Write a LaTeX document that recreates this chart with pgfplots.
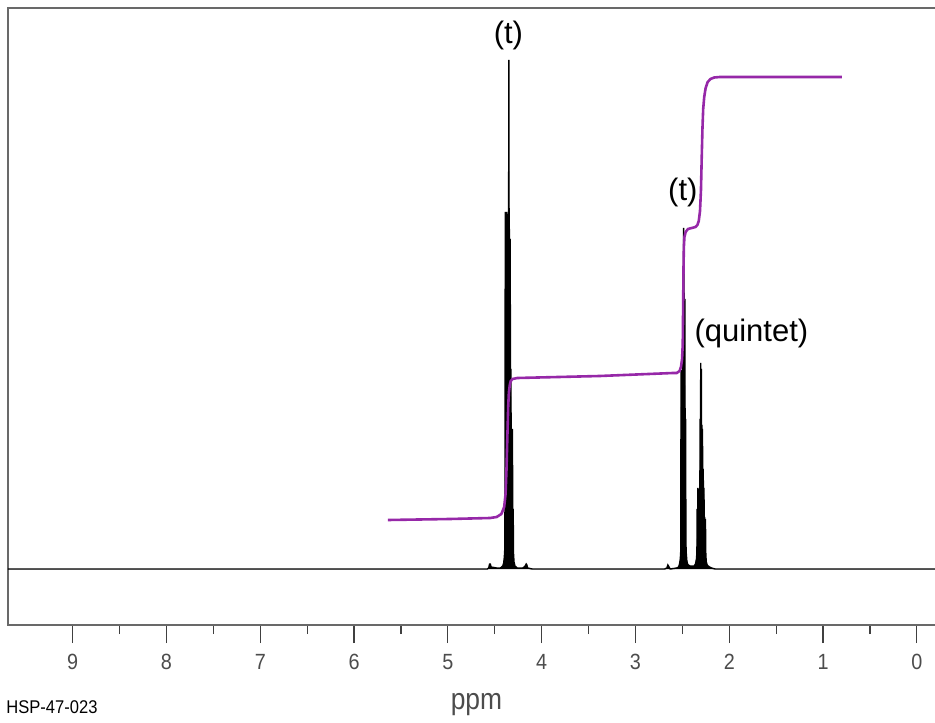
\documentclass[border=0pt]{standalone}
\usepackage{fontspec}
\setmainfont{Liberation Sans}
\newfontfamily\narrowfont[FakeStretch=0.9]{Liberation Sans}
\newfontfamily\labfont[FakeStretch=0.88]{Liberation Sans}
\usepackage{pgfplots}
\pgfplotsset{compat=1.18}
\definecolor{integ}{RGB}{150,40,168}
\definecolor{framegray}{RGB}{105,105,105}
\begin{document}
\begin{tikzpicture}
\begin{axis}[
  scale only axis,
  width=468.5pt, height=308.5pt,
  xmin=-0.30, xmax=9.69, x dir=reverse,
  ymin=-56, ymax=561,
  ytick=\empty,
  xtick={0,1,2,3,4,5,6,7,8,9},
  minor x tick num=1,
  xtick pos=bottom,
  tick align=outside,
  major tick length=9pt,
  minor tick length=4.5pt,
  every tick/.style={draw=black!75, line width=0.6pt},
  axis line style={draw=framegray, line width=1pt},
  /pgf/number format/assume math mode=true,
  xticklabel style={font=\narrowfont\fontsize{11}{13}\selectfont, text=black!70, yshift=-2pt},
  xlabel={ppm},
  x label style={at={(axis description cs:0.5,0)}, anchor=center, yshift=-40pt, font=\labfont\fontsize{15}{17}\selectfont, text=black!70},
  clip=false,
]
% spectrum
\addplot[black, fill=black, line width=0.7pt] coordinates {
(9.69,0)(4.62,0)(4.58,0)(4.565,1)(4.555,5)(4.548,5)(4.54,2)(4.48,1)(4.44,1)(4.415,3)(4.405,6)(4.398,12)(4.392,22)
(4.388,357)(4.384,250)(4.380,352)(4.376,260)(4.372,357)(4.368,280)(4.364,345)(4.360,290)(4.356,355)(4.353,300)
(4.350,509)(4.347,300)(4.344,340)(4.340,260)(4.336,330)(4.332,150)(4.328,200)(4.324,80)(4.320,97)(4.316,60)
(4.312,140)(4.308,40)(4.304,60)(4.300,15)(4.295,7)(4.285,3)(4.26,1)(4.20,1)(4.175,3)(4.165,5)(4.158,4)(4.15,1)(4.10,0)
(2.69,0)(2.665,1)(2.655,4)(2.648,3)(2.63,0)(2.56,1)(2.54,2)(2.53,5)(2.522,10)(2.517,18)
(2.514,199)(2.510,150)(2.506,195)(2.502,160)(2.498,199)(2.495,180)(2.492,276)(2.489,220)(2.486,341)(2.483,230)
(2.480,276)(2.477,200)(2.474,270)(2.470,100)(2.466,150)(2.462,25)(2.458,15)(2.452,8)(2.445,5)(2.435,4)(2.42,3)(2.40,3)(2.375,3)
(2.36,5)(2.35,10)(2.345,16)
(2.342,60)(2.338,40)(2.334,81)(2.330,60)(2.326,75)(2.322,60)(2.318,80)(2.314,70)(2.310,150)(2.307,120)
(2.304,206)(2.301,150)(2.298,200)(2.295,120)(2.292,144)(2.289,110)(2.286,140)(2.282,80)(2.278,100)(2.274,60)
(2.270,81)(2.266,40)(2.262,52)(2.258,30)(2.254,50)(2.250,14)(2.245,7)(2.235,4)(2.225,3)(2.21,2)(2.19,1)(2.15,0)(-0.30,0)
};
% integral
\addplot[integ, line width=1.3pt] coordinates {
(5.64,49)(4.98,50)(4.55,51)(4.48,52)(4.43,55)(4.40,62)(4.385,75)(4.375,100)(4.365,135)(4.357,162)(4.35,176)
(4.34,184)(4.33,188)(4.31,190)(4.26,191)(3.38,193)(2.60,196)(2.56,196)(2.53,198)(2.515,202)(2.503,210)(2.496,225)
(2.492,260)(2.488,300)(2.484,322)(2.478,332)(2.465,337)(2.44,340)(2.40,341)(2.36,342)(2.34,344)(2.325,348)
(2.312,358)(2.302,378)(2.294,410)(2.286,440)(2.278,460)(2.267,472)(2.252,481)(2.23,487)(2.20,490)(2.16,491.5)(2.10,492)(0.80,492)
};
\node[font=\fontsize{15.5}{18}\selectfont] at (axis cs:4.355,534) {(t)};
\node[font=\fontsize{15.5}{18}\selectfont] at (axis cs:2.495,377) {(t)};
\node[font=\fontsize{15.5}{18}\selectfont] at (axis cs:1.764,236) {(quintet)};
\node[anchor=west, inner sep=0pt, font=\narrowfont\fontsize{9.2}{11}\selectfont] at (rel axis cs:0,0) [xshift=-1pt, yshift=-41pt] {HSP-47-023};
\end{axis}
\pgfresetboundingbox
\useasboundingbox (-4pt,-48.5pt) rectangle (463.5pt,312.5pt);
\end{tikzpicture}
\end{document}
